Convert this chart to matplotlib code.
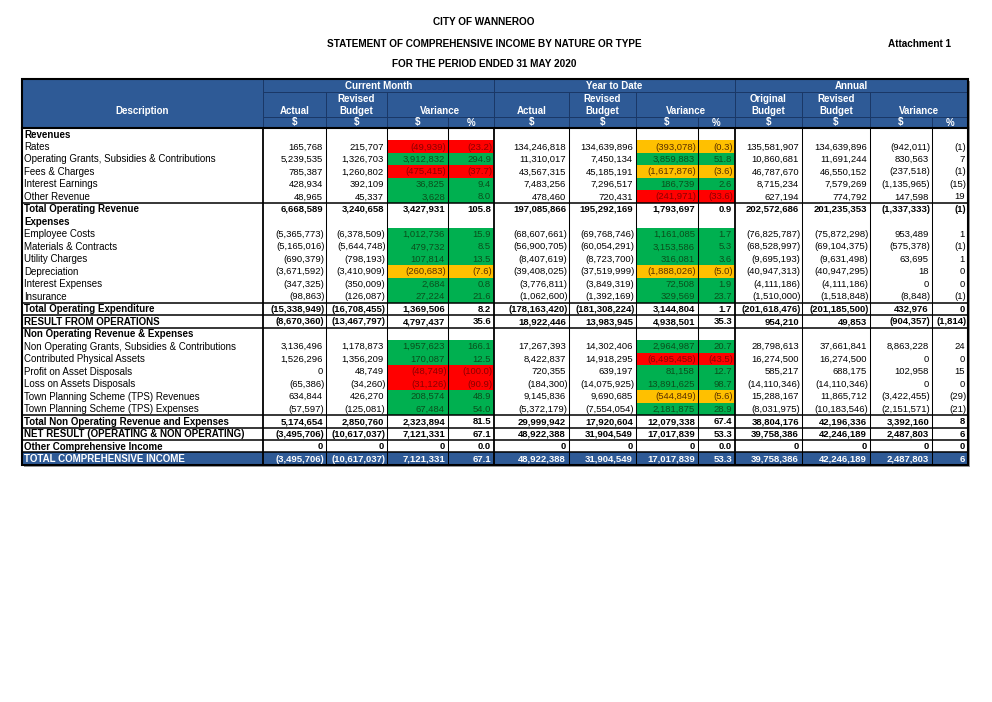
import matplotlib
matplotlib.use('Agg')
import matplotlib.pyplot as plt
from matplotlib.patches import Rectangle
from matplotlib import font_manager

# ---------------- data ----------------
labels = [
    "Revenues", "Rates", "Operating Grants, Subsidies & Contributions", "Fees & Charges",
    "Interest Earnings", "Other Revenue", "Total Operating Revenue", "Expenses",
    "Employee Costs", "Materials & Contracts", "Utility Charges", "Depreciation",
    "Interest Expenses", "Insurance", "Total Operating Expenditure", "RESULT FROM OPERATIONS",
    "Non Operating Revenue & Expenses", "Non Operating Grants, Subsidies & Contributions",
    "Contributed Physical Assets", "Profit on Asset Disposals", "Loss on Assets Disposals",
    "Town Planning Scheme (TPS) Revenues", "Town Planning Scheme (TPS) Expenses",
    "Total Non Operating Revenue and Expenses", "NET RESULT (OPERATING & NON OPERATING)",
    "Other Comprehensive Income", "TOTAL COMPREHENSIVE INCOME",
]
row_kind = ["section", "item", "item", "item", "item", "item", "total", "section",
            "item", "item", "item", "item", "item", "item", "total", "total",
            "section", "item", "item", "item", "item", "item", "item",
            "total", "total", "total", "grand"]

N = None
cm_actual = [N, 165768, 5239535, 785387, 428934, 48965, 6668589, N,
             -5365773, -5165016, -690379, -3671592, -347325, -98863, -15338949, -8670360,
             N, 3136496, 1526296, 0, -65386, 634844, -57597, 5174654, -3495706, 0, -3495706]
cm_budget = [N, 215707, 1326703, 1260802, 392109, 45337, 3240658, N,
             -6378509, -5644748, -798193, -3410909, -350009, -126087, -16708455, -13467797,
             N, 1178873, 1356209, 48749, -34260, 426270, -125081, 2850760, -10617037, 0, -10617037]
cm_var = [N, -49939, 3912832, -475415, 36825, 3628, 3427931, N,
          1012736, 479732, 107814, -260683, 2684, 27224, 1369506, 4797437,
          N, 1957623, 170087, -48749, -31126, 208574, 67484, 2323894, 7121331, 0, 7121331]
cm_pct = [N, -23.2, 294.9, -37.7, 9.4, 8.0, 105.8, N,
          15.9, 8.5, 13.5, -7.6, 0.8, 21.6, 8.2, 35.6,
          N, 166.1, 12.5, -100.0, -90.9, 48.9, 54.0, 81.5, 67.1, 0.0, 67.1]
cm_flag = ["", "R", "G", "R", "G", "G", "", "",
           "G", "G", "G", "Y", "G", "G", "", "",
           "", "G", "G", "R", "R", "G", "G", "", "", "", ""]

ytd_actual = [N, 134246818, 11310017, 43567315, 7483256, 478460, 197085866, N,
              -68607661, -56900705, -8407619, -39408025, -3776811, -1062600, -178163420, 18922446,
              N, 17267393, 8422837, 720355, -184300, 9145836, -5372179, 29999942, 48922388, 0, 48922388]
ytd_budget = [N, 134639896, 7450134, 45185191, 7296517, 720431, 195292169, N,
              -69768746, -60054291, -8723700, -37519999, -3849319, -1392169, -181308224, 13983945,
              N, 14302406, 14918295, 639197, -14075925, 9690685, -7554054, 17920604, 31904549, 0, 31904549]
ytd_var = [N, -393078, 3859883, -1617876, 186739, -241971, 1793697, N,
           1161085, 3153586, 316081, -1888026, 72508, 329569, 3144804, 4938501,
           N, 2964987, -6495458, 81158, 13891625, -544849, 2181875, 12079338, 17017839, 0, 17017839]
ytd_pct = [N, -0.3, 51.8, -3.6, 2.6, -33.6, 0.9, N,
           1.7, 5.3, 3.6, -5.0, 1.9, 23.7, 1.7, 35.3,
           N, 20.7, -43.5, 12.7, 98.7, -5.6, 28.9, 67.4, 53.3, 0.0, 53.3]
ytd_flag = ["", "Y", "G", "Y", "G", "R", "", "",
            "G", "G", "G", "Y", "G", "G", "", "",
            "", "G", "R", "G", "G", "Y", "G", "", "", "", ""]

ann_original = [N, 135581907, 10860681, 46787670, 8715234, 627194, 202572686, N,
                -76825787, -68528997, -9695193, -40947313, -4111186, -1510000, -201618476, 954210,
                N, 28798613, 16274500, 585217, -14110346, 15288167, -8031975, 38804176, 39758386, 0, 39758386]
ann_revised = [N, 134639896, 11691244, 46550152, 7579269, 774792, 201235353, N,
               -75872298, -69104375, -9631498, -40947295, -4111186, -1518848, -201185500, 49853,
               N, 37661841, 16274500, 688175, -14110346, 11865712, -10183546, 42196336, 42246189, 0, 42246189]
ann_var = [N, -942011, 830563, -237518, -1135965, 147598, -1337333, N,
           953489, -575378, 63695, 18, 0, -8848, 432976, -904357,
           N, 8863228, 0, 102958, 0, -3422455, -2151571, 3392160, 2487803, 0, 2487803]
ann_pct = [N, -1, 7, -1, -15, 19, -1, N,
           1, -1, 1, 0, 0, -1, 0, -1814,
           N, 24, 0, 15, 0, -29, -21, 8, 6, 0, 6]

title_lines = ["CITY OF WANNEROO",
               "STATEMENT OF COMPREHENSIVE INCOME BY NATURE OR TYPE",
               "FOR THE PERIOD ENDED 31 MAY 2020"]
attachment = "Attachment 1"
groups = ["Current Month", "Year to Date", "Annual"]

# ---------------- layout / style ----------------
BLUE = "#2E5A96"
HDR_LINE = "#1A3766"
FILL = {"R": "#FF0000", "G": "#00B050", "Y": "#FFC000"}
TXT = {"R": "#8B0000", "G": "#0B4F1C", "Y": "#5A3000", "": "black"}

edges = [22, 263, 326, 387, 448, 494, 569, 636, 698, 735, 802, 870, 932, 968]
hdr_y = [79, 92, 117, 128]
data_top = 128
nrows = len(labels)
row_h = 12.48
# rows that carry a rule on their top edge (style)
rule_above = [False, False, False, False, False, False, True, False,
              False, False, False, False, False, False, True, True,
              True, False, False, False, False, False, False,
              True, True, True, True]

names = {f.name for f in font_manager.fontManager.ttflist}
BODY = "Liberation Sans" if "Liberation Sans" in names else "DejaVu Sans"
NARROW = "Liberation Sans Narrow" if "Liberation Sans Narrow" in names else BODY

fig = plt.figure(figsize=(9.92, 7.02), dpi=100)
ax = fig.add_axes([0, 0, 1, 1])
ax.set_xlim(0, 992)
ax.set_ylim(702, 0)
ax.axis("off")

# titles
title_y = [22, 44, 64]
for t, y in zip(title_lines, title_y):
    ax.text(484, y, t, ha="center", va="center", fontsize=7.2, fontweight="bold",
            family=NARROW)
ax.text(919, 44, attachment, ha="center", va="center", fontsize=7.2, fontweight="bold",
        family=NARROW)

table_bottom = data_top + nrows * row_h
# shadow
ax.add_patch(Rectangle((edges[0] + 2, hdr_y[0] + 2), edges[-1] - edges[0], table_bottom - hdr_y[0],
                       facecolor="#9a9a9a", edgecolor="none", zorder=0))
ax.add_patch(Rectangle((edges[0], hdr_y[0]), edges[-1] - edges[0], table_bottom - hdr_y[0],
                       facecolor="white", edgecolor="none", zorder=0.5))
# header fill
ax.add_patch(Rectangle((edges[0], hdr_y[0]), edges[-1] - edges[0], hdr_y[3] - hdr_y[0],
                       facecolor=BLUE, edgecolor="none", zorder=1))

def row_top(i):
    return data_top + i * row_h

# grand total row fill
for i, k in enumerate(row_kind):
    if k == "grand":
        ax.add_patch(Rectangle((edges[0], row_top(i)), edges[-1] - edges[0], row_h,
                               facecolor=BLUE, edgecolor="none", zorder=1))

# conditional fills
for flags, cols in ((cm_flag, (3, 4)), (ytd_flag, (7, 8))):
    for i, f in enumerate(flags):
        if f:
            x0 = edges[cols[0]]
            x1 = edges[cols[1] + 1]
            ax.add_patch(Rectangle((x0, row_top(i)), x1 - x0, row_h,
                                   facecolor=FILL[f], edgecolor="none", zorder=1))

# header lines
lw_thin = 0.7
group_edges = [1, 5, 9, 13]
ax.plot([edges[1], edges[-1]], [hdr_y[1]] * 2, color=HDR_LINE, lw=lw_thin, zorder=2)
ax.plot([edges[1], edges[-1]], [hdr_y[2]] * 2, color=HDR_LINE, lw=lw_thin, zorder=2)
for j in range(1, 13):
    if j in group_edges:
        ax.plot([edges[j]] * 2, [hdr_y[0], hdr_y[3]], color=HDR_LINE, lw=lw_thin, zorder=2)
    elif j in (4, 8, 12):
        ax.plot([edges[j]] * 2, [hdr_y[2], hdr_y[3]], color=HDR_LINE, lw=lw_thin, zorder=2)
    else:
        ax.plot([edges[j]] * 2, [hdr_y[1], hdr_y[3]], color=HDR_LINE, lw=lw_thin, zorder=2)

# data vertical lines
for j in range(1, 13):
    lw = 1.3 if j in group_edges else 0.75
    ax.plot([edges[j]] * 2, [data_top, table_bottom], color="black", lw=lw, zorder=3)

# horizontal rules
for i, r in enumerate(rule_above):
    if r:
        ax.plot([edges[0], edges[-1]], [row_top(i)] * 2, color="black", lw=1.1, zorder=3)

# outer border & header separator
ax.plot([edges[0], edges[-1]], [data_top] * 2, color="black", lw=1.5, zorder=4)
ax.add_patch(Rectangle((edges[0], hdr_y[0]), edges[-1] - edges[0], table_bottom - hdr_y[0],
                       facecolor="none", edgecolor="black", lw=1.5, zorder=4))

# header texts
HFS = 7.0
def htext(x, y, s):
    ax.text(x, y, s, ha="center", va="center", color="white", fontsize=HFS,
            fontweight="bold", family=BODY, zorder=5)

htext((edges[0] + edges[1]) / 2, 110.5, "Description")
for g, (a, b) in zip(groups, [(1, 5), (5, 9), (9, 13)]):
    htext((edges[a] + edges[b]) / 2, 86, g)
r2a, r2b, r3 = 98.5, 110.5, 122.5
for base in (1, 5):
    htext((edges[base] + edges[base + 1]) / 2, r2b, "Actual")
    htext((edges[base + 1] + edges[base + 2]) / 2, r2a, "Revised")
    htext((edges[base + 1] + edges[base + 2]) / 2, r2b, "Budget")
    htext((edges[base + 2] + edges[base + 4]) / 2, r2b, "Variance")
htext((edges[9] + edges[10]) / 2, r2a, "Original")
htext((edges[9] + edges[10]) / 2, r2b, "Budget")
htext((edges[10] + edges[11]) / 2, r2a, "Revised")
htext((edges[10] + edges[11]) / 2, r2b, "Budget")
htext((edges[11] + edges[13]) / 2, r2b, "Variance")
for j in range(1, 13):
    htext((edges[j] + edges[j + 1]) / 2, r3, "%" if j in (4, 8, 12) else "$")

# data texts
def fmt(v, dec=0):
    if v is None:
        return ""
    s = f"{abs(v):,.{dec}f}"
    return f"({s})" if v < 0 else s

columns = [(cm_actual, 0, None), (cm_budget, 0, None), (cm_var, 0, cm_flag), (cm_pct, 1, cm_flag),
           (ytd_actual, 0, None), (ytd_budget, 0, None), (ytd_var, 0, ytd_flag), (ytd_pct, 1, ytd_flag),
           (ann_original, 0, None), (ann_revised, 0, None), (ann_var, 0, None), (ann_pct, 0, None)]

LFS = 7.0
NFS = 6.8
for i, lab in enumerate(labels):
    k = row_kind[i]
    yc = row_top(i) + row_h / 2 + 0.3
    bold = k in ("section", "total", "grand")
    col = "white" if k == "grand" else "black"
    ax.text(edges[0] + 2, yc, lab, ha="left", va="center", fontsize=LFS,
            fontweight="bold" if bold else "normal", color=col, family=BODY, zorder=5)
    for j, (vals, dec, flags) in enumerate(columns):
        v = vals[i]
        if v is None:
            continue
        s = fmt(v, dec)
        c = col
        if flags is not None and flags[i]:
            c = TXT[flags[i]]
        pad = 1.5 if v < 0 else 3.0
        ax.text(edges[j + 2] - pad, yc, s, ha="right", va="center", fontsize=NFS,
                fontweight="bold" if bold else "normal", color=c, family=BODY, zorder=5)

fig.savefig("out.png", dpi=100, facecolor="white")
